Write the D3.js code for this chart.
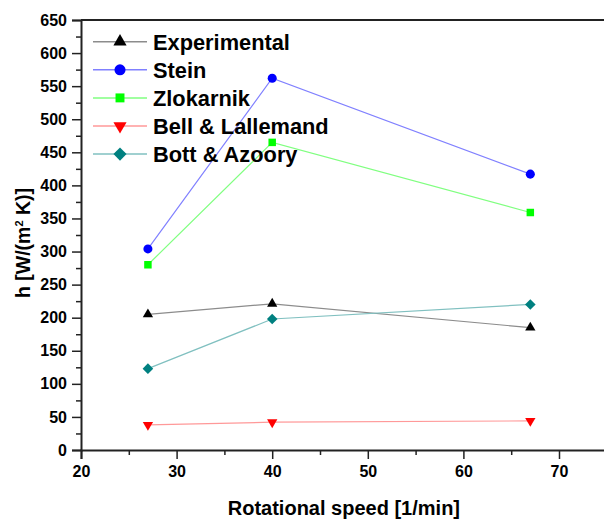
<!DOCTYPE html>
<html>
<head>
<meta charset="utf-8">
<script src="https://cdn.jsdelivr.net/npm/d3@7"></script>
<style>
	body { margin: 0; background: #fff; }
	svg { display: block; }
	text { font-family: "Liberation Sans", Arial, sans-serif; font-weight: bold; fill: #000; }
</style>
</head>
<body>
<svg width="604" height="521"></svg>
<script>
// data
const speed = [27, 40, 67];
const experimental = [205, 221, 185];
const stein = [304, 562, 417];
const zlokarnik = [280, 465, 359];
const bellLallemand = [38, 42, 44];
const bottAzoory = [123, 198, 220];

const seriesNames = ["Experimental", "Stein", "Zlokarnik", "Bell & Lallemand", "Bott & Azoory"];
const yTicks = d3.range(0, 651, 50);
const xTicks = d3.range(20, 71, 10);

const svg = d3.select("svg");

const x = d3.scaleLinear().domain([20, 75]).range([81, 606.8]);
const y = d3.scaleLinear().domain([0, 650]).range([450, 20]);

// 系列のスタイル
const series = [
	{ name: seriesNames[0], values: experimental, line: "#8c8c8c", fill: "#000000", sym: d3.symbolTriangle, size: 46, legSize: 75, rot: 0 },
	{ name: seriesNames[1], values: stein, line: "#8080ff", fill: "#0000ff", sym: d3.symbolCircle, size: 64, legSize: 96, rot: 0 },
	{ name: seriesNames[2], values: zlokarnik, line: "#80ff80", fill: "#00ff00", sym: d3.symbolSquare, size: 56, legSize: 80, rot: 0 },
	{ name: seriesNames[3], values: bellLallemand, line: "#ff9999", fill: "#ff0000", sym: d3.symbolTriangle, size: 46, legSize: 75, rot: 180 },
	{ name: seriesNames[4], values: bottAzoory, line: "#80c0c0", fill: "#008080", sym: d3.symbolSquare, size: 56, legSize: 86, rot: 45 }
];

// frame (top / right)
svg.append("line")
	.attr("x1", x(20)).attr("x2", x(75))
	.attr("y1", y(650)).attr("y2", y(650))
	.attr("stroke", "#222").attr("stroke-width", 2);
svg.append("line")
	.attr("x1", x(75)).attr("x2", x(75))
	.attr("y1", y(650)).attr("y2", y(0))
	.attr("stroke", "#222").attr("stroke-width", 2);

// y axis
svg.append("g")
	.attr("transform", `translate(${x(20)},0)`)
	.call(d3.axisLeft(y).tickValues(yTicks).tickSize(9).tickPadding(5));
svg.append("g")
	.attr("transform", `translate(${x(20)},0)`)
	.call(d3.axisLeft(y).tickValues(d3.range(25, 650, 50)).tickSize(5).tickFormat(""))
	.call(g => g.select(".domain").remove());

// x axis
svg.append("g")
	.attr("transform", `translate(0,${y(0)})`)
	.call(d3.axisBottom(x).tickValues(xTicks).tickSize(9).tickPadding(7));
svg.append("g")
	.attr("transform", `translate(0,${y(0)})`)
	.call(d3.axisBottom(x).tickValues(d3.range(25, 80, 10)).tickSize(5).tickFormat(""))
	.call(g => g.select(".domain").remove());

svg.selectAll(".domain").attr("stroke", "#222").attr("stroke-width", 2);
svg.selectAll(".tick line").attr("stroke", "#222").attr("stroke-width", 1.5);
svg.selectAll(".tick text").style("font-size", "16px").style("font-weight", "bold")
	.style("font-family", '"Liberation Sans", Arial, sans-serif').attr("fill", "#000");

// axis titles
svg.append("text")
	.attr("x", x(47.5)).attr("y", 515)
	.attr("text-anchor", "middle")
	.style("font-size", "20px")
	.text("Rotational speed [1/min]");

const yt = svg.append("text")
	.attr("transform", "translate(30,243) rotate(-90)")
	.attr("text-anchor", "middle")
	.style("font-size", "19.5px");
yt.append("tspan").text("h [W/(m");
yt.append("tspan").attr("dy", -7).style("font-size", "11px").text("2");
yt.append("tspan").attr("dy", 7).text(" K)]");

// lines + markers
const line = d3.line().x((d, i) => x(speed[i])).y(d => y(d));

series.forEach(s => {
	svg.append("path")
		.datum(s.values)
		.attr("d", line)
		.attr("fill", "none")
		.attr("stroke", s.line)
		.attr("stroke-width", 1.2);

	svg.selectAll(null)
		.data(s.values)
		.enter()
		.append("path")
		.attr("d", d3.symbol().type(s.sym).size(s.size))
		.attr("transform", (d, i) => `translate(${x(speed[i])},${y(d)}) rotate(${s.rot})`)
		.attr("fill", s.fill);
});

// legend
const legend = svg.append("g");
series.forEach((s, i) => {
	const cy = 41.7 + i * 28.1;
	legend.append("line")
		.attr("x1", 93).attr("x2", 147)
		.attr("y1", cy).attr("y2", cy)
		.attr("stroke", s.line).attr("stroke-width", 1.5);
	legend.append("path")
		.attr("d", d3.symbol().type(s.sym).size(s.legSize))
		.attr("transform", `translate(120,${cy}) rotate(${s.rot})`)
		.attr("fill", s.fill);
	legend.append("text")
		.attr("x", 153).attr("y", cy)
		.attr("dy", "0.36em")
		.style("font-size", "21.8px")
		.text(s.name);
});
</script>
</body>
</html>
